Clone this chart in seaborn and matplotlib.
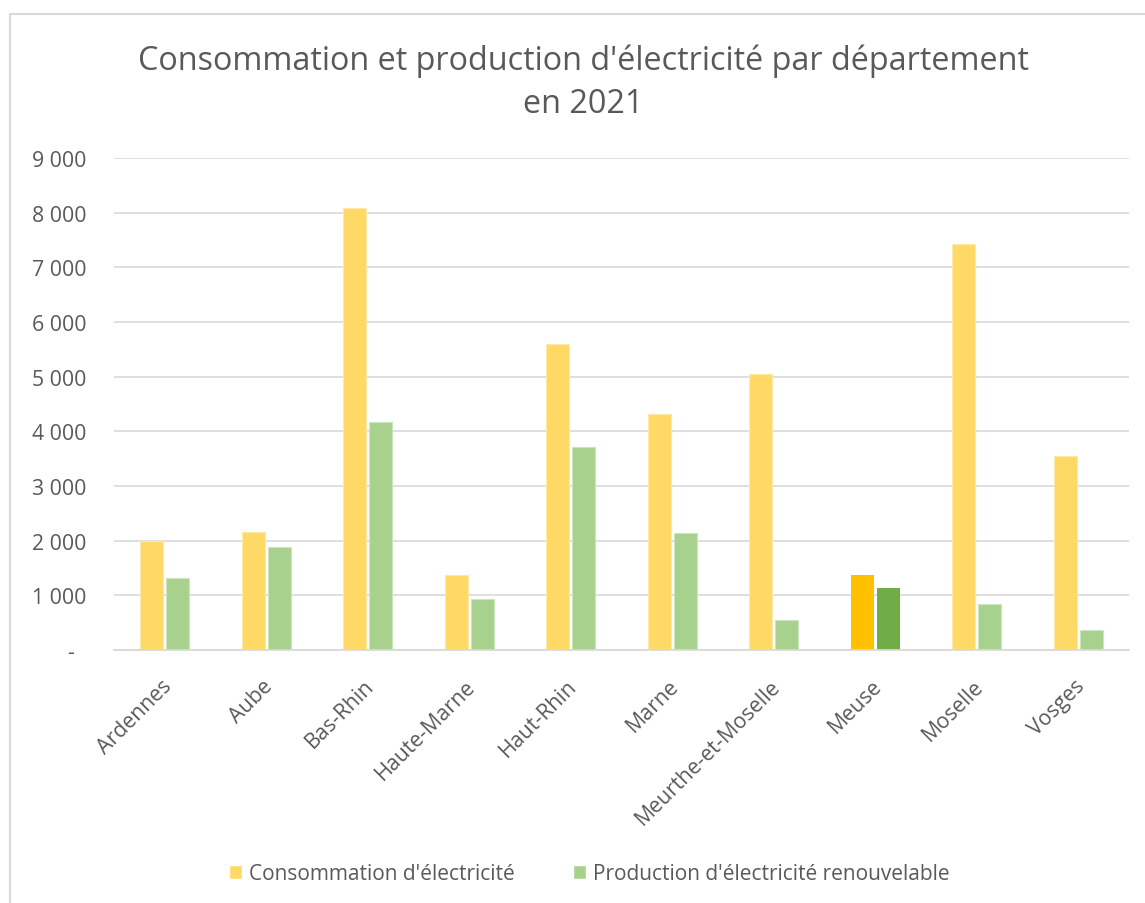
import matplotlib
matplotlib.use("Agg")
import matplotlib.pyplot as plt
import matplotlib.transforms as mtransforms
from matplotlib.patches import Rectangle
from matplotlib.ticker import FuncFormatter, MultipleLocator
import pandas as pd
import seaborn as sns

# Données 2021 (GWh) par département
departements = ["Ardennes", "Aube", "Bas-Rhin", "Haute-Marne", "Haut-Rhin",
                "Marne", "Meurthe-et-Moselle", "Meuse", "Moselle", "Vosges"]
consommation = [2000, 2150, 8090, 1380, 5590, 4310, 5055, 1380, 7425, 3555]
production = [1310, 1885, 4165, 935, 3720, 2140, 555, 1140, 835, 365]
series = ["Consommation d'électricité", "Production d'électricité renouvelable"]
titre = "Consommation et production d'électricité par département\nen 2021"
mis_en_avant = "Meuse"

couleurs = ["#FFD966", "#A9D18E"]
couleurs_fortes = ["#FFC000", "#70AD47"]
bords = ["#FFE9A6", "#CDE5BD"]
gris_texte = "#595959"
gris_ligne = "#D9D9D9"

df = pd.DataFrame({
    "Département": departements * 2,
    "Valeur": consommation + production,
    "Série": [series[0]] * len(departements) + [series[1]] * len(departements),
})

sns.set_theme(style="white")
plt.rcParams["font.family"] = ["Open Sans", "DejaVu Sans"]

fig = plt.figure(figsize=(11.45, 9.04), dpi=100)
ax = fig.add_axes([114 / 1145, 1 - 651 / 904, (1129 - 114) / 1145, (651 - 159) / 904])

sns.barplot(data=df, x="Département", y="Valeur", hue="Série",
            palette=couleurs, saturation=1, width=0.51, gap=0.11, ax=ax,
            order=departements, hue_order=series)

i_hl = departements.index(mis_en_avant)
for k, cont in enumerate(ax.containers):
    for j, bar in enumerate(cont):
        if j == i_hl:
            bar.set_facecolor(couleurs_fortes[k])
            bar.set_edgecolor(couleurs_fortes[k])
            bar.set_linewidth(0.0)
        else:
            bar.set_edgecolor(bords[k])
            bar.set_linewidth(0.8)

handles, labels = ax.get_legend_handles_labels()
if ax.get_legend() is not None:
    ax.get_legend().remove()

ax.set_ylim(0, 9000)
ax.set_xlim(-0.5, len(departements) - 0.5)
ax.yaxis.set_major_locator(MultipleLocator(1000))


def fmt(v, pos):
    if abs(v) < 1e-9:
        return "-  "
    return f"{v:,.0f}".replace(",", " ")


ax.yaxis.set_major_formatter(FuncFormatter(fmt))
ax.grid(axis="y", color=gris_ligne, linewidth=1.2)
ax.set_axisbelow(True)
for s in ["top", "right", "left"]:
    ax.spines[s].set_visible(False)
ax.spines["bottom"].set_color(gris_ligne)
ax.spines["bottom"].set_linewidth(1.3)

ax.set_xlabel("")
ax.set_ylabel("")
ax.tick_params(axis="y", length=0, pad=20, labelsize=15.3, labelcolor=gris_texte)
ax.tick_params(axis="x", length=0, pad=18, labelsize=15.3, labelcolor=gris_texte)
decalage = mtransforms.ScaledTranslation(-4 / 100, 0, fig.dpi_scale_trans)
for lab in ax.get_xticklabels():
    lab.set_rotation(45)
    lab.set_ha("right")
    lab.set_va("top")
    lab.set_rotation_mode("anchor")
    lab.set_transform(lab.get_transform() + decalage)

fig.text(0.5096, 1 - 83 / 904, titre, ha="center", va="center",
         fontsize=23.3, color=gris_texte, linespacing=1.4)

fig.legend(handles, labels, loc="center", bbox_to_anchor=(0.5145, 1 - 875 / 904),
           ncol=2, frameon=False, handlelength=0.65, handleheight=0.65,
           handletextpad=0.3, columnspacing=2.8, fontsize=15,
           labelcolor=gris_texte)

fig.patches.append(Rectangle((10 / 1145, -0.2), 1.3, 0.2 + (1 - 15 / 904),
                             transform=fig.transFigure, fill=False,
                             edgecolor=gris_ligne, linewidth=1.5))

fig.savefig("out.png", dpi=100, facecolor="white")
